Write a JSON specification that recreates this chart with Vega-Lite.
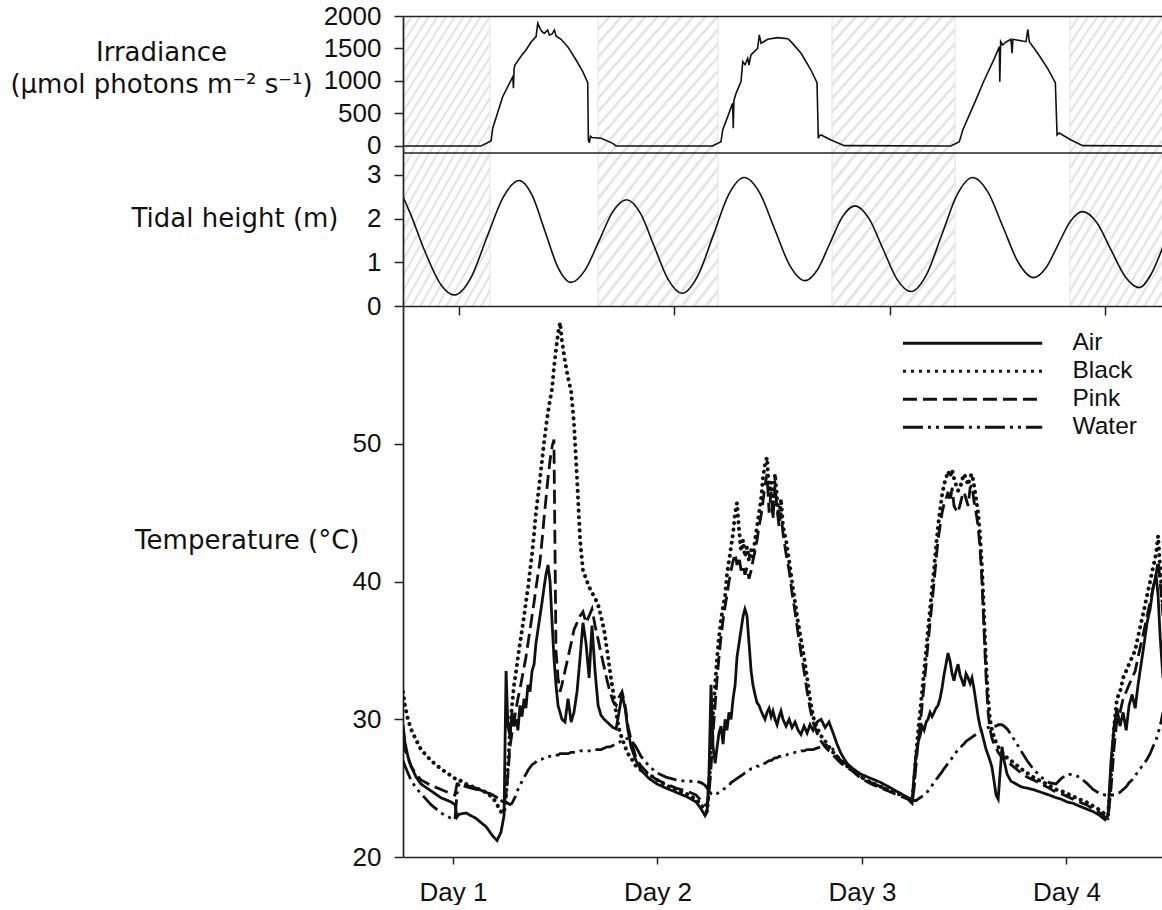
{
"$schema":"https://vega.github.io/schema/vega-lite/v6.json",
"padding":{"left":9,"top":3,"right":0,"bottom":0},
"spacing":0,
"bounds":"flush",
"config":{
 "font":"Liberation Sans",
 "view":{"stroke":null},
 "axis":{"domainColor":"#222","tickColor":"#222","labelColor":"#111","titleColor":"#111","labelFontSize":26,"titleFont":"DejaVu Sans","titleFontSize":26,"titleFontWeight":"normal","grid":false,"tickSize":9,"labelPadding":13,"domainWidth":1.7,"tickWidth":1.5,"titleAngle":0,"titleBaseline":"middle","format":"d"},
 "rect":{"fill":{"gradient":"linear","x1":0,"y1":0,"x2":1,"y2":1,"stops":[
{"offset":0,"color":"#dedede"},{"offset":0.012,"color":"#fff"},{"offset":0.038,"color":"#fff"},
{"offset":0.05,"color":"#dedede"},{"offset":0.062,"color":"#fff"},{"offset":0.088,"color":"#fff"},
{"offset":0.1,"color":"#dedede"},{"offset":0.112,"color":"#fff"},{"offset":0.138,"color":"#fff"},
{"offset":0.15,"color":"#dedede"},{"offset":0.162,"color":"#fff"},{"offset":0.188,"color":"#fff"},
{"offset":0.2,"color":"#dedede"},{"offset":0.212,"color":"#fff"},{"offset":0.238,"color":"#fff"},
{"offset":0.25,"color":"#dedede"},{"offset":0.262,"color":"#fff"},{"offset":0.288,"color":"#fff"},
{"offset":0.3,"color":"#dedede"},{"offset":0.312,"color":"#fff"},{"offset":0.338,"color":"#fff"},
{"offset":0.35,"color":"#dedede"},{"offset":0.362,"color":"#fff"},{"offset":0.388,"color":"#fff"},
{"offset":0.4,"color":"#dedede"},{"offset":0.412,"color":"#fff"},{"offset":0.438,"color":"#fff"},
{"offset":0.45,"color":"#dedede"},{"offset":0.462,"color":"#fff"},{"offset":0.488,"color":"#fff"},
{"offset":0.5,"color":"#dedede"},{"offset":0.512,"color":"#fff"},{"offset":0.538,"color":"#fff"},
{"offset":0.55,"color":"#dedede"},{"offset":0.562,"color":"#fff"},{"offset":0.588,"color":"#fff"},
{"offset":0.6,"color":"#dedede"},{"offset":0.612,"color":"#fff"},{"offset":0.638,"color":"#fff"},
{"offset":0.65,"color":"#dedede"},{"offset":0.662,"color":"#fff"},{"offset":0.688,"color":"#fff"},
{"offset":0.7,"color":"#dedede"},{"offset":0.712,"color":"#fff"},{"offset":0.738,"color":"#fff"},
{"offset":0.75,"color":"#dedede"},{"offset":0.762,"color":"#fff"},{"offset":0.788,"color":"#fff"},
{"offset":0.8,"color":"#dedede"},{"offset":0.812,"color":"#fff"},{"offset":0.838,"color":"#fff"},
{"offset":0.85,"color":"#dedede"},{"offset":0.862,"color":"#fff"},{"offset":0.888,"color":"#fff"},
{"offset":0.9,"color":"#dedede"},{"offset":0.912,"color":"#fff"},{"offset":0.938,"color":"#fff"},
{"offset":0.95,"color":"#dedede"},{"offset":0.962,"color":"#fff"},{"offset":0.988,"color":"#fff"},
{"offset":1,"color":"#dedede"}]}},
 "legend":{"labelFontSize":24.5,"labelColor":"#111","symbolType":"M-18.9,0H1","symbolSize":196,"symbolStrokeWidth":3,"symbolStrokeColor":"#111","labelOffset":25,"padding":0,"rowPadding":3}
},
"datasets":{
"night":[{"s":0.74,"e":1.144},{"s":1.646,"e":2.203},{"s":2.733,"e":3.304},{"s":3.838,"e":4.27}],
"irr":[{"t":0.74,"v":0},{"t":1.102,"v":0},{"t":1.149,"v":77},{"t":1.157,"v":277},{"t":1.203,"v":758},{"t":1.25,"v":1066},{"t":1.253,"v":890},{"t":1.256,"v":1190},{"t":1.26,"v":1246},{"t":1.288,"v":1380},{"t":1.311,"v":1477},{"t":1.335,"v":1600},{"t":1.358,"v":1682},{"t":1.366,"v":1887},{"t":1.376,"v":1810},{"t":1.386,"v":1760},{"t":1.396,"v":1733},{"t":1.412,"v":1785},{"t":1.42,"v":1708},{"t":1.432,"v":1720},{"t":1.443,"v":1785},{"t":1.451,"v":1692},{"t":1.474,"v":1641},{"t":1.505,"v":1528},{"t":1.544,"v":1323},{"t":1.575,"v":1143},{"t":1.598,"v":974},{"t":1.601,"v":92},{"t":1.605,"v":50},{"t":1.611,"v":150},{"t":1.618,"v":130},{"t":1.66,"v":118},{"t":1.714,"v":41},{"t":1.729,"v":0},{"t":2.178,"v":0},{"t":2.217,"v":66},{"t":2.225,"v":246},{"t":2.271,"v":656},{"t":2.274,"v":272},{"t":2.277,"v":700},{"t":2.287,"v":810},{"t":2.31,"v":990},{"t":2.318,"v":1297},{"t":2.329,"v":1250},{"t":2.341,"v":1349},{"t":2.347,"v":1246},{"t":2.356,"v":1400},{"t":2.387,"v":1503},{"t":2.395,"v":1708},{"t":2.403,"v":1580},{"t":2.434,"v":1641},{"t":2.48,"v":1667},{"t":2.527,"v":1650},{"t":2.542,"v":1605},{"t":2.589,"v":1426},{"t":2.635,"v":1169},{"t":2.663,"v":974},{"t":2.669,"v":118},{"t":2.675,"v":160},{"t":2.682,"v":170},{"t":2.728,"v":92},{"t":2.79,"v":5},{"t":3.285,"v":0},{"t":3.324,"v":66},{"t":3.34,"v":246},{"t":3.394,"v":656},{"t":3.44,"v":1015},{"t":3.487,"v":1349},{"t":3.51,"v":1528},{"t":3.512,"v":990},{"t":3.516,"v":1605},{"t":3.525,"v":1554},{"t":3.541,"v":1600},{"t":3.564,"v":1641},{"t":3.569,"v":1426},{"t":3.573,"v":1641},{"t":3.634,"v":1605},{"t":3.642,"v":1795},{"t":3.649,"v":1605},{"t":3.688,"v":1426},{"t":3.734,"v":1195},{"t":3.77,"v":974},{"t":3.778,"v":170},{"t":3.788,"v":200},{"t":3.843,"v":92},{"t":3.897,"v":5},{"t":4.27,"v":0}],
"tide":[{"t":0.74,"h":2.5},{"t":0.777,"h":2.08},{"t":0.839,"h":1.28},{"t":0.917,"h":0.48},{"t":0.978,"h":0.25},{"t":1.054,"h":0.633},{"t":1.129,"h":1.56},{"t":1.205,"h":2.487},{"t":1.28,"h":2.87},{"t":1.34,"h":2.53},{"t":1.4,"h":1.705},{"t":1.46,"h":0.88},{"t":1.52,"h":0.54},{"t":1.585,"h":0.816},{"t":1.65,"h":1.485},{"t":1.714,"h":2.154},{"t":1.779,"h":2.43},{"t":1.843,"h":2.118},{"t":1.907,"h":1.36},{"t":1.972,"h":0.602},{"t":2.036,"h":0.29},{"t":2.108,"h":0.677},{"t":2.181,"h":1.615},{"t":2.253,"h":2.553},{"t":2.325,"h":2.94},{"t":2.396,"h":2.595},{"t":2.466,"h":1.76},{"t":2.537,"h":0.925},{"t":2.607,"h":0.58},{"t":2.665,"h":0.83},{"t":2.723,"h":1.435},{"t":2.781,"h":2.04},{"t":2.839,"h":2.29},{"t":2.904,"h":2.004},{"t":2.969,"h":1.31},{"t":3.034,"h":0.616},{"t":3.1,"h":0.33},{"t":3.171,"h":0.711},{"t":3.243,"h":1.635},{"t":3.315,"h":2.559},{"t":3.386,"h":2.94},{"t":3.457,"h":2.606},{"t":3.528,"h":1.795},{"t":3.599,"h":0.984},{"t":3.669,"h":0.65},{"t":3.726,"h":0.87},{"t":3.783,"h":1.405},{"t":3.84,"h":1.94},{"t":3.897,"h":2.16},{"t":3.963,"h":1.906},{"t":4.028,"h":1.29},{"t":4.094,"h":0.674},{"t":4.16,"h":0.42},{"t":4.214,"h":0.72},{"t":4.27,"h":1.36}],
"frame":[{"h":3.5}],
"temp":[
{"d":0.756,"Air":29.6,"Black":32.0,"Pink":28.5,"Water":27.0},
{"d":0.766,"Air":28.3,"Black":31.0,"Pink":27.8,"Water":26.6},
{"d":0.780,"Air":27.3,"Black":30.0,"Pink":27.2,"Water":26.1},
{"d":0.795,"Air":26.6,"Black":29.3,"Pink":26.6,"Water":25.6},
{"d":0.820,"Air":25.8,"Black":28.5,"Pink":26.0,"Water":25.0},
{"d":0.844,"Air":25.3,"Black":27.8,"Pink":25.6,"Water":24.6},
{"d":0.893,"Air":24.8,"Black":27.0,"Pink":25.2,"Water":23.8},
{"d":0.942,"Air":24.3,"Black":26.4,"Pink":24.9,"Water":23.2},
{"d":0.991,"Air":24.0,"Black":25.9,"Pink":24.6,"Water":22.8},
{"d":1.010,"Air":23.8,"Black":25.7,"Pink":24.5,"Water":22.7},
{"d":1.020,"Air":22.9,"Black":25.6,"Pink":25.3,"Water":24.6},
{"d":1.030,"Air":23.1,"Black":25.6,"Pink":25.3,"Water":25.3},
{"d":1.064,"Air":23.2,"Black":25.3,"Pink":25.1,"Water":25.2},
{"d":1.113,"Air":22.8,"Black":25.0,"Pink":24.9,"Water":25.0},
{"d":1.162,"Air":22.2,"Black":24.7,"Pink":24.7,"Water":24.7},
{"d":1.196,"Air":21.5,"Black":24.3,"Pink":24.5,"Water":24.5},
{"d":1.216,"Air":21.2,"Black":23.8,"Pink":24.3,"Water":24.3},
{"d":1.235,"Air":21.8,"Black":23.3,"Pink":24.1,"Water":24.1},
{"d":1.250,"Air":23.0,"Black":23.2,"Pink":24.0,"Water":24.0},
{"d":1.260,"Air":33.5,"Black":24.5,"Pink":24.5,"Water":24.0},
{"d":1.269,"Air":29.5,"Black":26.5,"Pink":26.0,"Water":23.9},
{"d":1.279,"Air":28.8,"Black":29.0,"Pink":28.0,"Water":23.8},
{"d":1.289,"Air":30.5,"Black":31.0,"Pink":29.0,"Water":23.9},
{"d":1.299,"Air":29.5,"Black":32.5,"Pink":29.8,"Water":24.2},
{"d":1.309,"Air":30.0,"Black":33.5,"Pink":30.8,"Water":24.5},
{"d":1.318,"Air":29.2,"Black":34.5,"Pink":31.5,"Water":24.9},
{"d":1.328,"Air":31.0,"Black":35.5,"Pink":32.2,"Water":25.2},
{"d":1.338,"Air":30.2,"Black":36.5,"Pink":33.0,"Water":25.5},
{"d":1.348,"Air":31.5,"Black":37.5,"Pink":33.8,"Water":25.8},
{"d":1.357,"Air":30.8,"Black":38.5,"Pink":34.5,"Water":26.0},
{"d":1.367,"Air":32.5,"Black":39.5,"Pink":35.5,"Water":26.3},
{"d":1.377,"Air":32.0,"Black":40.8,"Pink":36.5,"Water":26.5},
{"d":1.387,"Air":33.5,"Black":42.0,"Pink":37.5,"Water":26.7},
{"d":1.397,"Air":34.0,"Black":43.5,"Pink":38.5,"Water":26.8},
{"d":1.406,"Air":35.5,"Black":45.0,"Pink":39.5,"Water":26.9},
{"d":1.416,"Air":36.5,"Black":46.2,"Pink":40.5,"Water":27.0},
{"d":1.426,"Air":37.5,"Black":47.5,"Pink":41.5,"Water":27.1},
{"d":1.436,"Air":38.5,"Black":48.8,"Pink":43.0,"Water":27.1},
{"d":1.445,"Air":39.5,"Black":50.0,"Pink":44.5,"Water":27.2},
{"d":1.455,"Air":40.5,"Black":51.2,"Pink":46.0,"Water":27.2},
{"d":1.465,"Air":41.2,"Black":52.3,"Pink":47.5,"Water":27.3},
{"d":1.475,"Air":40.0,"Black":53.2,"Pink":48.8,"Water":27.3},
{"d":1.485,"Air":37.0,"Black":54.0,"Pink":49.8,"Water":27.3},
{"d":1.494,"Air":34.5,"Black":55.5,"Pink":50.3,"Water":27.4},
{"d":1.504,"Air":32.5,"Black":56.8,"Pink":35.0,"Water":27.4},
{"d":1.514,"Air":31.0,"Black":58.0,"Pink":33.0,"Water":27.4},
{"d":1.524,"Air":30.5,"Black":58.8,"Pink":32.0,"Water":27.5},
{"d":1.533,"Air":30.0,"Black":57.5,"Pink":32.5,"Water":27.5},
{"d":1.548,"Air":29.8,"Black":56.0,"Pink":33.5,"Water":27.5},
{"d":1.563,"Air":31.5,"Black":54.8,"Pink":34.5,"Water":27.5},
{"d":1.578,"Air":29.8,"Black":53.8,"Pink":35.5,"Water":27.6},
{"d":1.592,"Air":30.5,"Black":51.5,"Pink":36.5,"Water":27.6},
{"d":1.607,"Air":32.0,"Black":47.5,"Pink":37.0,"Water":27.6},
{"d":1.622,"Air":34.5,"Black":43.0,"Pink":37.5,"Water":27.7},
{"d":1.636,"Air":37.0,"Black":40.8,"Pink":37.8,"Water":27.7},
{"d":1.651,"Air":35.5,"Black":40.2,"Pink":37.0,"Water":27.7},
{"d":1.666,"Air":33.0,"Black":39.6,"Pink":37.5,"Water":27.7},
{"d":1.680,"Air":36.8,"Black":39.2,"Pink":38.0,"Water":27.7},
{"d":1.695,"Air":33.5,"Black":38.8,"Pink":36.8,"Water":27.8},
{"d":1.710,"Air":31.0,"Black":38.3,"Pink":35.8,"Water":27.8},
{"d":1.724,"Air":30.3,"Black":37.5,"Pink":34.8,"Water":27.8},
{"d":1.739,"Air":30.0,"Black":36.5,"Pink":33.8,"Water":27.9},
{"d":1.754,"Air":29.8,"Black":35.0,"Pink":32.8,"Water":28.0},
{"d":1.768,"Air":29.6,"Black":33.5,"Pink":32.0,"Water":28.0},
{"d":1.783,"Air":29.4,"Black":32.0,"Pink":31.3,"Water":28.1},
{"d":1.798,"Air":29.3,"Black":30.5,"Pink":31.0,"Water":28.2},
{"d":1.812,"Air":30.5,"Black":29.3,"Pink":31.6,"Water":28.3},
{"d":1.827,"Air":31.8,"Black":28.6,"Pink":32.0,"Water":28.5},
{"d":1.842,"Air":30.8,"Black":28.0,"Pink":31.0,"Water":28.6},
{"d":1.856,"Air":29.2,"Black":27.5,"Pink":29.5,"Water":28.6},
{"d":1.871,"Air":28.0,"Black":27.2,"Pink":28.5,"Water":28.5},
{"d":1.895,"Air":27.0,"Black":26.6,"Pink":27.2,"Water":28.0},
{"d":1.920,"Air":26.3,"Black":26.3,"Pink":26.6,"Water":27.3},
{"d":1.959,"Air":25.7,"Black":26.0,"Pink":26.0,"Water":26.6},
{"d":1.998,"Air":25.3,"Black":25.6,"Pink":25.6,"Water":26.1},
{"d":2.042,"Air":25.0,"Black":25.2,"Pink":25.3,"Water":25.8},
{"d":2.091,"Air":24.7,"Black":24.9,"Pink":25.0,"Water":25.6},
{"d":2.140,"Air":24.4,"Black":24.6,"Pink":24.8,"Water":25.5},
{"d":2.189,"Air":24.0,"Black":24.2,"Pink":24.5,"Water":25.5},
{"d":2.213,"Air":23.5,"Black":23.8,"Pink":24.1,"Water":25.4},
{"d":2.233,"Air":23.0,"Black":23.4,"Pink":23.8,"Water":25.2},
{"d":2.243,"Air":23.3,"Black":23.3,"Pink":23.7,"Water":25.0},
{"d":2.252,"Air":26.0,"Black":25.0,"Pink":24.5,"Water":24.8},
{"d":2.262,"Air":32.5,"Black":28.0,"Pink":26.5,"Water":24.6},
{"d":2.272,"Air":28.0,"Black":30.5,"Pink":29.0,"Water":24.5},
{"d":2.282,"Air":26.8,"Black":32.5,"Pink":31.0,"Water":24.5},
{"d":2.292,"Air":28.0,"Black":34.5,"Pink":33.0,"Water":24.6},
{"d":2.301,"Air":29.0,"Black":36.0,"Pink":34.5,"Water":24.7},
{"d":2.311,"Air":29.5,"Black":37.2,"Pink":36.0,"Water":24.8},
{"d":2.321,"Air":28.2,"Black":38.2,"Pink":37.2,"Water":24.9},
{"d":2.331,"Air":30.0,"Black":39.0,"Pink":38.2,"Water":25.0},
{"d":2.340,"Air":29.2,"Black":40.5,"Pink":39.0,"Water":25.1},
{"d":2.350,"Air":30.5,"Black":41.5,"Pink":40.0,"Water":25.2},
{"d":2.360,"Air":30.0,"Black":42.5,"Pink":40.8,"Water":25.4},
{"d":2.370,"Air":31.5,"Black":43.5,"Pink":41.5,"Water":25.5},
{"d":2.380,"Air":32.5,"Black":45.0,"Pink":42.0,"Water":25.6},
{"d":2.389,"Air":34.5,"Black":45.7,"Pink":41.2,"Water":25.7},
{"d":2.399,"Air":35.5,"Black":43.8,"Pink":41.8,"Water":25.8},
{"d":2.409,"Air":36.5,"Black":42.2,"Pink":40.8,"Water":25.9},
{"d":2.419,"Air":37.5,"Black":43.0,"Pink":41.2,"Water":26.0},
{"d":2.428,"Air":38.0,"Black":41.8,"Pink":40.5,"Water":26.1},
{"d":2.438,"Air":37.5,"Black":42.5,"Pink":41.0,"Water":26.2},
{"d":2.448,"Air":35.5,"Black":41.5,"Pink":40.2,"Water":26.3},
{"d":2.458,"Air":33.5,"Black":42.3,"Pink":40.8,"Water":26.4},
{"d":2.467,"Air":32.5,"Black":41.8,"Pink":41.5,"Water":26.4},
{"d":2.477,"Air":31.8,"Black":43.0,"Pink":42.2,"Water":26.5},
{"d":2.487,"Air":31.2,"Black":44.0,"Pink":43.0,"Water":26.6},
{"d":2.497,"Air":31.0,"Black":45.0,"Pink":44.0,"Water":26.6},
{"d":2.507,"Air":30.6,"Black":46.0,"Pink":44.8,"Water":26.7},
{"d":2.516,"Air":30.3,"Black":47.5,"Pink":45.8,"Water":26.8},
{"d":2.526,"Air":30.0,"Black":48.5,"Pink":47.0,"Water":26.8},
{"d":2.536,"Air":30.5,"Black":49.0,"Pink":47.8,"Water":26.9},
{"d":2.546,"Air":30.8,"Black":46.5,"Pink":45.0,"Water":27.0},
{"d":2.556,"Air":30.2,"Black":47.2,"Pink":46.5,"Water":27.0},
{"d":2.565,"Air":30.6,"Black":45.5,"Pink":44.5,"Water":27.1},
{"d":2.575,"Air":30.0,"Black":47.8,"Pink":47.0,"Water":27.2},
{"d":2.585,"Air":29.6,"Black":46.0,"Pink":45.2,"Water":27.2},
{"d":2.595,"Air":30.2,"Black":44.5,"Pink":44.0,"Water":27.3},
{"d":2.604,"Air":30.6,"Black":46.0,"Pink":45.0,"Water":27.3},
{"d":2.614,"Air":30.0,"Black":44.0,"Pink":43.5,"Water":27.4},
{"d":2.629,"Air":29.5,"Black":43.0,"Pink":42.0,"Water":27.4},
{"d":2.644,"Air":30.0,"Black":41.5,"Pink":40.8,"Water":27.5},
{"d":2.658,"Air":29.4,"Black":40.0,"Pink":39.2,"Water":27.5},
{"d":2.673,"Air":29.8,"Black":38.5,"Pink":37.8,"Water":27.6},
{"d":2.688,"Air":29.2,"Black":37.0,"Pink":36.2,"Water":27.6},
{"d":2.702,"Air":28.9,"Black":35.8,"Pink":34.8,"Water":27.7},
{"d":2.717,"Air":29.5,"Black":34.5,"Pink":33.5,"Water":27.7},
{"d":2.732,"Air":29.0,"Black":33.0,"Pink":32.0,"Water":27.8},
{"d":2.746,"Air":29.6,"Black":31.5,"Pink":30.8,"Water":27.8},
{"d":2.761,"Air":29.2,"Black":30.2,"Pink":29.8,"Water":27.8},
{"d":2.780,"Air":29.8,"Black":29.4,"Pink":29.0,"Water":27.9},
{"d":2.800,"Air":30.0,"Black":28.8,"Pink":28.4,"Water":28.0},
{"d":2.820,"Air":29.4,"Black":28.4,"Pink":28.0,"Water":28.1},
{"d":2.839,"Air":29.8,"Black":28.0,"Pink":27.7,"Water":28.1},
{"d":2.859,"Air":29.0,"Black":27.6,"Pink":27.4,"Water":27.8},
{"d":2.878,"Air":28.2,"Black":27.3,"Pink":27.1,"Water":27.3},
{"d":2.898,"Air":27.5,"Black":27.0,"Pink":26.8,"Water":27.0},
{"d":2.927,"Air":26.8,"Black":26.6,"Pink":26.5,"Water":26.7},
{"d":2.957,"Air":26.4,"Black":26.3,"Pink":26.2,"Water":26.3},
{"d":2.996,"Air":26.0,"Black":25.8,"Pink":25.7,"Water":25.8},
{"d":3.045,"Air":25.7,"Black":25.4,"Pink":25.3,"Water":25.4},
{"d":3.093,"Air":25.4,"Black":25.1,"Pink":25.0,"Water":25.1},
{"d":3.142,"Air":25.0,"Black":24.8,"Pink":24.7,"Water":24.8},
{"d":3.191,"Air":24.6,"Black":24.5,"Pink":24.4,"Water":24.5},
{"d":3.225,"Air":24.3,"Black":24.3,"Pink":24.2,"Water":24.3},
{"d":3.245,"Air":24.0,"Black":24.0,"Pink":23.9,"Water":24.2},
{"d":3.255,"Air":26.0,"Black":25.5,"Pink":25.0,"Water":24.1},
{"d":3.265,"Air":27.5,"Black":27.5,"Pink":26.8,"Water":24.1},
{"d":3.274,"Air":28.3,"Black":29.0,"Pink":28.2,"Water":24.2},
{"d":3.284,"Air":28.8,"Black":30.5,"Pink":29.5,"Water":24.3},
{"d":3.294,"Air":29.5,"Black":32.0,"Pink":31.0,"Water":24.4},
{"d":3.304,"Air":29.2,"Black":33.5,"Pink":32.5,"Water":24.5},
{"d":3.314,"Air":29.8,"Black":35.0,"Pink":34.0,"Water":24.6},
{"d":3.323,"Air":30.0,"Black":36.5,"Pink":35.5,"Water":24.8},
{"d":3.333,"Air":30.5,"Black":38.0,"Pink":37.0,"Water":25.0},
{"d":3.343,"Air":30.2,"Black":39.5,"Pink":38.5,"Water":25.2},
{"d":3.353,"Air":30.5,"Black":41.0,"Pink":40.0,"Water":25.4},
{"d":3.362,"Air":30.8,"Black":42.5,"Pink":41.5,"Water":25.6},
{"d":3.372,"Air":31.0,"Black":44.0,"Pink":43.0,"Water":25.8},
{"d":3.382,"Air":31.5,"Black":45.2,"Pink":44.0,"Water":26.0},
{"d":3.392,"Air":32.3,"Black":46.3,"Pink":45.0,"Water":26.2},
{"d":3.401,"Air":33.2,"Black":47.0,"Pink":45.6,"Water":26.4},
{"d":3.411,"Air":34.0,"Black":47.5,"Pink":46.0,"Water":26.6},
{"d":3.421,"Air":34.8,"Black":48.0,"Pink":46.5,"Water":26.8},
{"d":3.431,"Air":34.2,"Black":47.6,"Pink":45.8,"Water":27.0},
{"d":3.441,"Air":33.3,"Black":48.1,"Pink":46.8,"Water":27.2},
{"d":3.450,"Air":32.8,"Black":47.5,"Pink":45.5,"Water":27.4},
{"d":3.460,"Air":33.5,"Black":47.0,"Pink":45.2,"Water":27.6},
{"d":3.470,"Air":34.0,"Black":46.6,"Pink":45.0,"Water":27.8},
{"d":3.480,"Air":33.2,"Black":46.8,"Pink":45.6,"Water":27.9},
{"d":3.490,"Air":32.8,"Black":47.4,"Pink":46.2,"Water":28.1},
{"d":3.499,"Air":32.4,"Black":47.8,"Pink":46.5,"Water":28.2},
{"d":3.509,"Air":33.3,"Black":47.5,"Pink":46.0,"Water":28.4},
{"d":3.519,"Air":33.0,"Black":47.0,"Pink":45.5,"Water":28.5},
{"d":3.529,"Air":32.6,"Black":47.6,"Pink":46.8,"Water":28.6},
{"d":3.538,"Air":33.0,"Black":47.8,"Pink":47.0,"Water":28.7},
{"d":3.548,"Air":32.2,"Black":47.0,"Pink":45.8,"Water":28.8},
{"d":3.558,"Air":31.2,"Black":46.0,"Pink":45.0,"Water":28.9},
{"d":3.568,"Air":30.2,"Black":45.0,"Pink":44.0,"Water":29.0},
{"d":3.577,"Air":29.5,"Black":43.5,"Pink":42.5,"Water":29.1},
{"d":3.587,"Air":29.0,"Black":41.0,"Pink":40.0,"Water":29.2},
{"d":3.597,"Air":28.4,"Black":37.5,"Pink":36.5,"Water":29.2},
{"d":3.607,"Air":27.8,"Black":34.0,"Pink":33.0,"Water":29.3},
{"d":3.617,"Air":27.4,"Black":31.5,"Pink":30.5,"Water":29.4},
{"d":3.626,"Air":27.0,"Black":30.0,"Pink":29.3,"Water":29.4},
{"d":3.636,"Air":26.5,"Black":29.2,"Pink":28.6,"Water":29.5},
{"d":3.646,"Air":25.5,"Black":28.7,"Pink":28.2,"Water":29.5},
{"d":3.656,"Air":24.5,"Black":28.3,"Pink":27.9,"Water":29.5},
{"d":3.666,"Air":24.2,"Black":28.0,"Pink":27.6,"Water":29.6},
{"d":3.675,"Air":26.0,"Black":27.8,"Pink":27.4,"Water":29.6},
{"d":3.685,"Air":28.0,"Black":27.6,"Pink":27.2,"Water":29.6},
{"d":3.695,"Air":27.0,"Black":27.4,"Pink":27.1,"Water":29.5},
{"d":3.710,"Air":26.0,"Black":27.2,"Pink":26.9,"Water":29.3},
{"d":3.729,"Air":25.5,"Black":27.0,"Pink":26.7,"Water":28.9},
{"d":3.754,"Air":25.3,"Black":26.7,"Pink":26.4,"Water":28.3},
{"d":3.778,"Air":25.1,"Black":26.4,"Pink":26.1,"Water":27.7},
{"d":3.807,"Air":25.0,"Black":26.1,"Pink":25.8,"Water":27.0},
{"d":3.837,"Air":24.9,"Black":25.8,"Pink":25.6,"Water":26.4},
{"d":3.876,"Air":24.7,"Black":25.5,"Pink":25.3,"Water":25.8},
{"d":3.915,"Air":24.5,"Black":25.2,"Pink":25.0,"Water":25.4},
{"d":3.949,"Air":24.3,"Black":24.9,"Pink":24.7,"Water":25.3},
{"d":3.974,"Air":24.2,"Black":24.8,"Pink":24.6,"Water":25.7},
{"d":4.003,"Air":24.0,"Black":24.6,"Pink":24.4,"Water":26.0},
{"d":4.032,"Air":23.9,"Black":24.4,"Pink":24.2,"Water":26.0},
{"d":4.062,"Air":23.7,"Black":24.2,"Pink":24.0,"Water":25.8},
{"d":4.096,"Air":23.5,"Black":24.0,"Pink":23.8,"Water":25.4},
{"d":4.130,"Air":23.3,"Black":23.7,"Pink":23.5,"Water":24.9},
{"d":4.164,"Air":23.0,"Black":23.4,"Pink":23.2,"Water":24.6},
{"d":4.189,"Air":22.7,"Black":23.1,"Pink":22.9,"Water":24.5},
{"d":4.203,"Air":23.0,"Black":23.0,"Pink":22.8,"Water":24.5},
{"d":4.218,"Air":27.0,"Black":26.0,"Pink":25.0,"Water":24.5},
{"d":4.233,"Air":29.5,"Black":29.5,"Pink":28.0,"Water":24.5},
{"d":4.247,"Air":30.8,"Black":31.5,"Pink":30.0,"Water":24.6},
{"d":4.262,"Air":29.5,"Black":32.0,"Pink":30.5,"Water":24.7},
{"d":4.277,"Air":30.5,"Black":33.0,"Pink":31.5,"Water":24.9},
{"d":4.292,"Air":29.2,"Black":33.5,"Pink":32.0,"Water":25.1},
{"d":4.306,"Air":31.0,"Black":34.0,"Pink":32.5,"Water":25.4},
{"d":4.321,"Air":31.8,"Black":34.5,"Pink":33.0,"Water":25.6},
{"d":4.336,"Air":30.8,"Black":35.0,"Pink":33.5,"Water":25.9},
{"d":4.350,"Air":32.5,"Black":36.0,"Pink":34.5,"Water":26.2},
{"d":4.365,"Air":34.0,"Black":37.0,"Pink":35.5,"Water":26.5},
{"d":4.380,"Air":35.5,"Black":38.0,"Pink":36.5,"Water":26.8},
{"d":4.394,"Air":37.0,"Black":39.0,"Pink":37.5,"Water":27.1},
{"d":4.409,"Air":38.0,"Black":40.0,"Pink":38.5,"Water":27.5},
{"d":4.423,"Air":39.5,"Black":41.0,"Pink":39.5,"Water":28.0},
{"d":4.438,"Air":40.5,"Black":42.0,"Pink":40.5,"Water":28.5},
{"d":4.448,"Air":39.0,"Black":43.3,"Pink":41.5,"Water":29.0},
{"d":4.458,"Air":36.0,"Black":41.0,"Pink":40.0,"Water":29.5},
{"d":4.472,"Air":33.0,"Black":38.0,"Pink":37.5,"Water":30.5}
]},
"vconcat":[
{"width":760,"height":137,
 "layer":[
  {"data":{"name":"night"},"mark":{"type":"rect"},
   "encoding":{"x":{"field":"s","type":"quantitative","scale":{"domain":[0.74,4.27],"nice":false,"zero":false},"axis":{"orient":"top","ticks":false,"labels":false,"title":null,"domain":true,"zindex":1}},"x2":{"field":"e"}}},
  {"data":{"name":"night"},"mark":{"type":"rule","color":"#e2e2e2","strokeWidth":1},"encoding":{"x":{"field":"s","type":"quantitative"}}},
  {"data":{"name":"night"},"mark":{"type":"rule","color":"#e2e2e2","strokeWidth":1},"encoding":{"x":{"field":"e","type":"quantitative"}}},
  {"data":{"name":"irr"},"mark":{"type":"line","color":"#111","strokeWidth":1.6,"clip":true},
   "encoding":{"x":{"field":"t","type":"quantitative"},
    "y":{"field":"v","type":"quantitative","scale":{"domain":[-108,2000],"nice":false,"zero":false},
     "axis":{"values":[0,500,1000,1500,2000],"zindex":1,"title":["Irradiance","(µmol photons m⁻² s⁻¹)"],"titleAlign":"center","titleX":-242,"titleY":36,"titleLineHeight":32}}}}
 ]},
{"width":760,"height":153,
 "layer":[
  {"data":{"name":"night"},"mark":{"type":"rect"},
   "encoding":{"x":{"field":"s","type":"quantitative","scale":{"domain":[0.74,4.27],"nice":false,"zero":false},"axis":{"orient":"bottom","values":[1,2,3,4],"labels":false,"title":null,"tickSize":9,"zindex":1}},"x2":{"field":"e"}}},
  {"data":{"name":"night"},"mark":{"type":"rule","color":"#e2e2e2","strokeWidth":1},"encoding":{"x":{"field":"s","type":"quantitative"}}},
  {"data":{"name":"night"},"mark":{"type":"rule","color":"#e2e2e2","strokeWidth":1},"encoding":{"x":{"field":"e","type":"quantitative"}}},
  {"data":{"name":"tide"},"mark":{"type":"line","color":"#111","strokeWidth":1.6,"interpolate":"monotone","clip":true},
   "encoding":{"x":{"field":"t","type":"quantitative"},
    "y":{"field":"h","type":"quantitative","scale":{"domain":[0,3.5],"nice":false,"zero":false},
     "axis":{"values":[0,1,2,3],"zindex":1,"title":"Tidal height (m)","titleAlign":"right","titleX":-65,"titleY":65}}}},
  {"data":{"name":"frame"},"mark":{"type":"rule","color":"#222","strokeWidth":1.7},"encoding":{"y":{"field":"h","type":"quantitative"}}}
 ]},
{"width":760,"height":551,
 "data":{"name":"temp"},
 "transform":[{"fold":["Air","Black","Pink","Water"],"as":["series","T"]}],
 "encoding":{
  "x":{"field":"d","type":"quantitative","scale":{"domain":[0.756,4.472],"nice":false,"zero":false},"axis":{"values":[1,2,3,4],"labelExpr":"'Day ' + datum.value","title":null,"tickSize":7,"labelPadding":15,"labelFlush":false}},
  "y":{"field":"T","type":"quantitative","scale":{"domain":[20,60],"nice":false,"zero":false},"axis":{"values":[20,30,40,50],"title":"Temperature (°C)","titleAlign":"right","titleX":-44,"titleY":234}}
 },
 "layer":[
  {"transform":[{"filter":"datum.series !== 'Black'"}],
   "mark":{"type":"line","color":"#111","strokeWidth":2.8,"clip":true},
   "encoding":{"strokeDash":{"field":"series","type":"nominal","scale":{"domain":["Air","Black","Pink","Water"],"range":[[1,0],[3,5],[14,6],[20,5,3,5,3,5]]},
    "legend":{"title":null,"orient":"none","legendX":620,"legendY":315}}}},
  {"transform":[{"filter":"datum.series === 'Black'"}],
   "mark":{"type":"line","color":"#111","strokeWidth":4,"strokeCap":"round","strokeDash":[0.1,6.5],"clip":true}}
 ]}
]
}
